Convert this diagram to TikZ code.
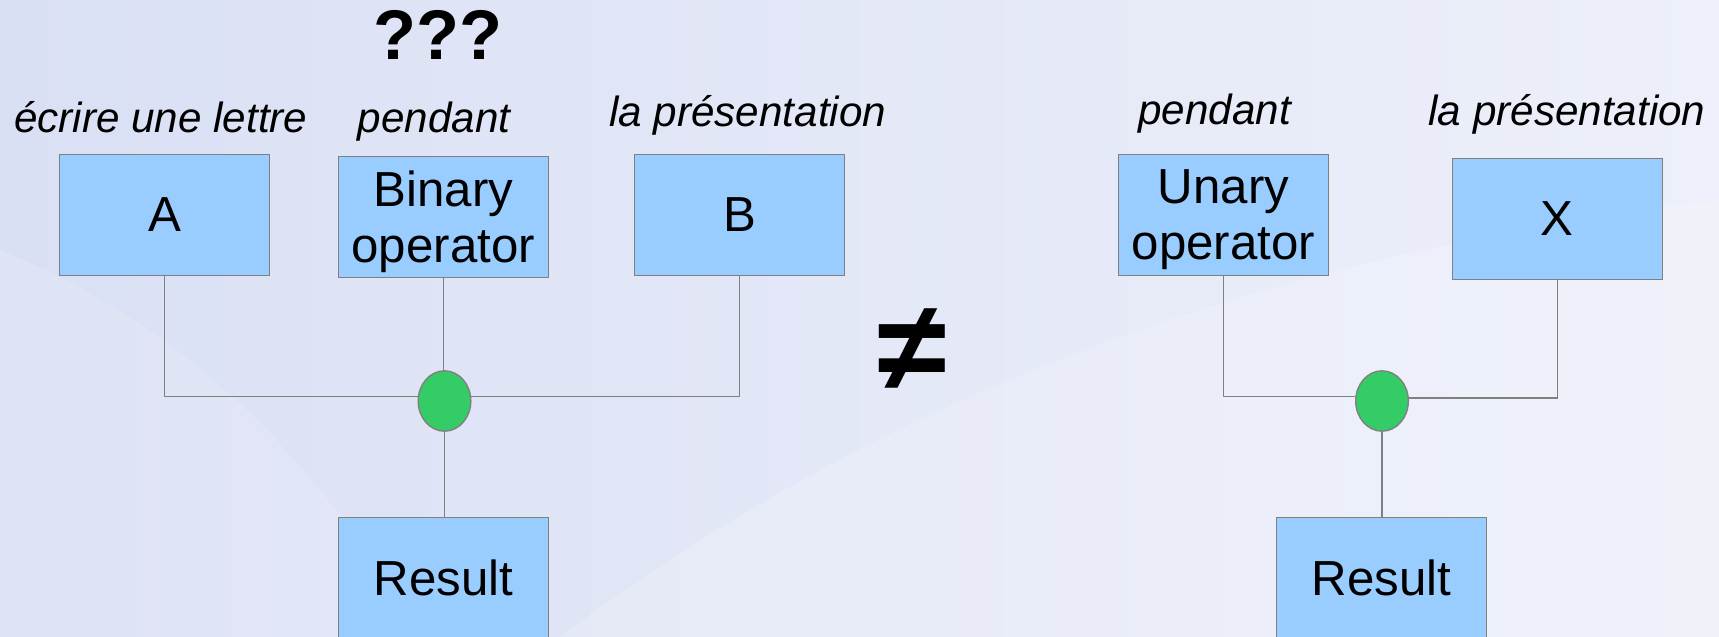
\documentclass[tikz,border=0pt]{standalone}
\usepackage{fontspec}
\setmainfont{Liberation Sans}
\usetikzlibrary{shapes.geometric}
\definecolor{boxblue}{HTML}{99CCFF}
\definecolor{boxline}{HTML}{808080}
\definecolor{dotgreen}{HTML}{33CC66}
\definecolor{bgleft}{HTML}{DAE0F4}
\definecolor{bgright}{HTML}{EDF0FA}

\begin{document}
\begin{tikzpicture}[x=0.01cm, y=-0.01cm,
		box/.style={draw=boxline, line width=0.4pt, fill=boxblue, minimum width=2.1cm, minimum height=1.21cm, inner sep=0pt, text depth=0pt, align=center, font=\fontsize{14}{15.8}\selectfont},
		junction/.style={ellipse, draw=boxline, line width=0.4pt, fill=dotgreen, minimum width=0.526cm, minimum height=0.603cm, inner sep=0pt},
		wire/.style={draw=boxline, line width=0.4pt},
		lbl/.style={anchor=base, inner sep=0pt, font=\fontsize{12}{14}\selectfont\itshape}]
		%%%%% START %%%%%
		
		\useasboundingbox (0, 0) rectangle (1719, 637);
		\shade[left color=bgleft, right color=bgright] (0, 0) rectangle (1719, 637);
		\fill[white, opacity=0.18] (560, 637) .. controls (900, 380) and (1300, 250) .. (1719, 200) -- (1719, 637) -- cycle;
		\fill[white, opacity=0.12] (0, 250) .. controls (200, 330) and (330, 480) .. (420, 637) -- (0, 637) -- cycle;
		
		% binary operator
		\node[lbl, font=\fontsize{20}{22}\selectfont\bfseries] (qq) at (437.5, 60) {???};
		\node[lbl] (lblA) at (160.8, 133) {écrire une lettre};
		\node[lbl] (lblop) at (434, 133) {pendant};
		\node[lbl] (lblB) at (747.7, 127) {la présentation};
		
		\node[box] (A) at (164.7, 214.8) {A};
		\node[box] (binop) at (443.3, 216.8) {Binary\\operator};
		\node[box] (B) at (739.5, 214.8) {B};
		\node[junction] (bop) at (444.5, 401) {};
		\node[box] (res1) at (443.7, 577.8) {Result};
		
		\draw[wire] (A.south) |- (bop.170);
		\draw[wire] (B.south) |- (bop.10);
		\draw[wire] (binop.south) -- (binop.south |- bop.north);
		\draw[wire] (bop.south) -- (bop.south |- res1.north);
		
		% not equal
		\node[inner sep=0pt, font=\fontsize{36}{38}\selectfont\bfseries] (neq) at (912, 350) {≠};
		
		% unary operator
		\node[lbl] (lbluop) at (1214.5, 125) {pendant};
		\node[lbl] (lblX) at (1567, 126) {la présentation};
		
		\node[box] (unop) at (1223.5, 214.8) {Unary\\operator};
		\node[box] (X) at (1557.3, 218.8) {X};
		\node[junction] (buop) at (1382, 401) {};
		\node[box] (res2) at (1381.3, 577.8) {Result};
		
		\draw[wire] (unop.south) |- (buop.170);
		\draw[wire] (X.south) |- (buop.6);
		\draw[wire] (buop.south) -- (buop.south |- res2.north);
		
		%%%%% END %%%%%
	\end{tikzpicture}
\end{document}
